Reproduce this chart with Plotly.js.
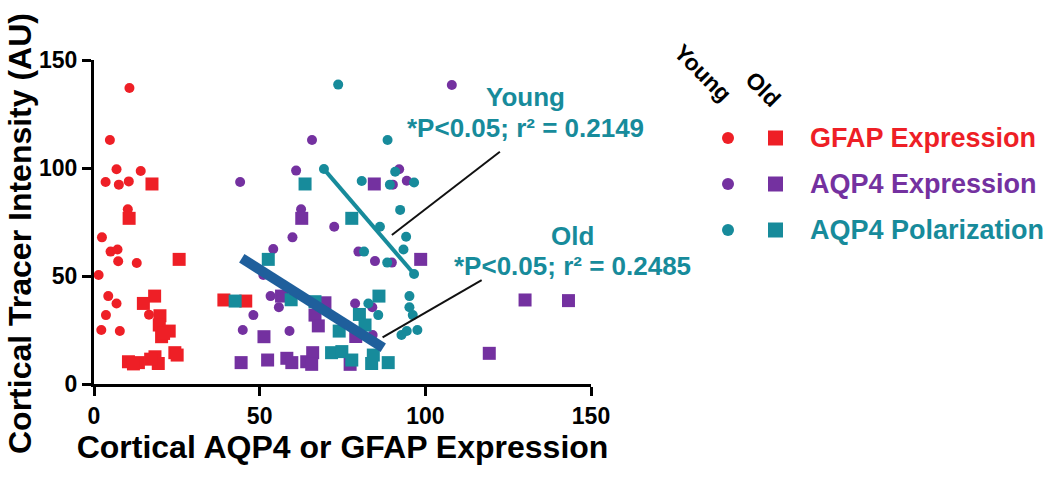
<!DOCTYPE html>
<html>
<head>
<meta charset="utf-8">
<script src="https://cdn.plot.ly/plotly-3.0.1.min.js"></script>
<style>html,body{margin:0;padding:0;background:#fff;}#chart{width:1050px;height:477px;}</style>
</head>
<body>
<div id="chart"></div>
<script>
// ---- data ----
const youngGfapX = [10.7, 4.8, 6.8, 14.1, 3.5, 7.5, 10.5, 10.2, 2.4, 5.0, 7.1, 7.3, 12.9, 1.4, 4.3, 6.8, 3.6, 2.2, 7.8, 16.6];
const youngGfapY = [137, 113, 99.4, 98.6, 93.5, 92.3, 93.8, 80.9, 67.9, 61.3, 62.3, 56.8, 56, 50.5, 40.7, 37.3, 31.9, 25, 24.5, 32.1];

const oldGfapX = [17.5, 10.6, 25.7, 18.3, 14.9, 19.9, 19.7, 22.7, 20.4, 21.0, 24.4, 25.1, 10.4, 13.4, 11.9, 18.4, 19.4, 17.1, 39.2, 45.8];
const oldGfapY = [92.6, 76.7, 57.7, 40.7, 37.3, 31.6, 27.3, 24.5, 21.9, 23.4, 14.5, 13.4, 10.3, 9.9, 9.3, 12.6, 9.5, 11.5, 38.9, 38.4];

const youngAqpExpX = [108, 65.8, 44.1, 61.0, 92.1, 90.2, 94.4, 62.5, 72.5, 59.9, 54.1, 79.8, 84.8, 89.9, 51.1, 53.3, 55.8, 48.1, 44.9, 59.0, 78.8, 84.0, 84.1];
const youngAqpExpY = [138.4, 113, 93.5, 98.8, 99.4, 92.3, 94.1, 80.9, 72.8, 67.9, 62.5, 61.3, 56.9, 56.2, 50.5, 40.7, 35.5, 31.9, 25, 24.5, 37.3, 35.5, 22.7];

const oldAqpExpX = [84.6, 62.7, 98.6, 56.6, 69.7, 66.7, 67.7, 51.3, 44.4, 52.4, 58.2, 59.7, 64.2, 66.0, 65.7, 77.3, 79.0, 130.1, 143.2, 119.3];
const oldAqpExpY = [92.6, 76.7, 57.7, 40.7, 37.6, 31.9, 26.9, 21.9, 9.9, 11.1, 11.9, 9.9, 10.3, 14.5, 9.1, 9.1, 22.0, 38.9, 38.6, 14.2];

const youngAqpPolX = [73.7, 88.6, 69.4, 80.8, 90.9, 96.6, 89.3, 92.4, 86.3, 94.2, 81.5, 93.4, 88.5, 96.6, 82.8, 85.8, 95.2, 95.2, 96.2, 97.6, 92.8, 94.4];
const youngAqpPolY = [138.6, 113, 99.5, 94, 98.3, 93.3, 92.3, 80.6, 72.8, 68.2, 61.3, 62.3, 56.2, 50.9, 37.3, 31.9, 40.7, 35.5, 31.9, 25, 22.7, 24.5];

const oldAqpPolX = [63.7, 77.8, 52.6, 42.6, 59.5, 66.7, 86.0, 80.1, 81.8, 74.0, 71.7, 74.8, 77.8, 84.3, 83.8, 88.8];
const oldAqpPolY = [92.6, 76.7, 57.7, 38.4, 39.0, 38.1, 40.7, 32.2, 27.3, 24.5, 14.5, 15.0, 11.1, 13.4, 9.5, 9.9];

// regression line end points
const youngFitX = [69.4, 96.6];
const youngFitY = [99.5, 50.9];
const oldFitX = [44.6, 87.3];
const oldFitY = [58.2, 16.8];

const legendLabels = ['GFAP Expression', 'AQP4 Expression', 'AQP4 Polarization'];
const xTicks = [0, 50, 100, 150];
const yTicks = [0, 50, 100, 150];
const xTitle = 'Cortical AQP4 or GFAP Expression';
const yTitle = 'Cortical Tracer Intensity (AU)';

// ---- styles ----
const RED = '#ee1f26', PURPLE = '#7431a0', TEAL = '#178b9b', BLUE = '#1f5f9c';
const legendColors = [RED, PURPLE, TEAL];
const FONT = 'Liberation Sans, Arial, Helvetica, sans-serif';

function pts(x, y, color, symbol, size, name) {
  return {x: x, y: y, type: 'scatter', mode: 'markers', name: name, showlegend: false,
    cliponaxis: false,
    marker: {color: color, symbol: symbol, size: size, line: {width: 0}}};
}

const traces = [
  pts(youngGfapX, youngGfapY, RED, 'circle', 10, 'Young GFAP'),
  pts(oldGfapX, oldGfapY, RED, 'square', 13, 'Old GFAP'),
  pts(youngAqpExpX, youngAqpExpY, PURPLE, 'circle', 10, 'Young AQP4 Expression'),
  pts(oldAqpExpX, oldAqpExpY, PURPLE, 'square', 13, 'Old AQP4 Expression'),
  pts(youngAqpPolX, youngAqpPolY, TEAL, 'circle', 10, 'Young AQP4 Polarization'),
  pts(oldAqpPolX, oldAqpPolY, TEAL, 'square', 13, 'Old AQP4 Polarization'),
  {x: youngFitX, y: youngFitY, type: 'scatter', mode: 'lines', showlegend: false,
    line: {color: TEAL, width: 4}},
  {x: oldFitX, y: oldFitY, type: 'scatter', mode: 'lines', showlegend: false,
    line: {color: BLUE, width: 10}}
];

// plot area in pixels: x 94..591, y 60..384
const L = 94, R = 591, T = 60, B = 384;
const px2paperX = p => (p - L) / (R - L);
const px2paperY = p => (B - p) / (B - T);

function ann(o) {
  return Object.assign({showarrow: false, xanchor: 'center', yanchor: 'middle'}, o);
}

const annotations = [
  ann({text: yTitle, x: px2paperX(20), y: px2paperY(234), xref: 'paper', yref: 'paper',
    textangle: -90, font: {family: FONT, size: 32, color: '#000', weight: 700}}),
  ann({text: 'Young', x: 130.1, y: 133, xref: 'x', yref: 'y',
    font: {family: FONT, size: 26, color: TEAL, weight: 700}}),
  ann({text: '*P<0.05; r² = 0.2149', x: 130.1, y: 118.5, xref: 'x', yref: 'y',
    font: {family: FONT, size: 26, color: TEAL, weight: 700}}),
  ann({text: 'Old', x: 144.3, y: 68.5, xref: 'x', yref: 'y',
    font: {family: FONT, size: 26, color: TEAL, weight: 700}}),
  ann({text: '*P<0.05; r² = 0.2485', x: 144.3, y: 54.6, xref: 'x', yref: 'y',
    font: {family: FONT, size: 26, color: TEAL, weight: 700}}),
  ann({text: 'Young', x: px2paperX(703), y: px2paperY(73), xref: 'paper', yref: 'paper',
    textangle: 45, font: {family: FONT, size: 23, color: '#000', weight: 700}}),
  ann({text: 'Old', x: px2paperX(763), y: px2paperY(89), xref: 'paper', yref: 'paper',
    textangle: 45, font: {family: FONT, size: 23, color: '#000', weight: 700}})
];

const rowY = [138, 184, 230];
const shapes = [
  {type: 'line', xref: 'x', yref: 'y', x0: 122.5, y0: 107.5, x1: 89.9, y1: 69, line: {color: '#111', width: 2}},
  {type: 'line', xref: 'x', yref: 'y', x0: 117, y0: 48.1, x1: 87.1, y1: 21.6, line: {color: '#111', width: 2}}
];
legendLabels.forEach((lab, i) => {
  const cy = rowY[i];
  annotations.push(ann({text: lab, x: px2paperX(808), y: px2paperY(cy), xref: 'paper', yref: 'paper',
    xanchor: 'left', font: {family: FONT, size: 27, color: legendColors[i], weight: 700}}));
  shapes.push({type: 'circle', xref: 'paper', yref: 'paper',
    x0: px2paperX(722), x1: px2paperX(734), y0: px2paperY(cy + 6), y1: px2paperY(cy - 6),
    fillcolor: legendColors[i], line: {width: 0}});
  shapes.push({type: 'rect', xref: 'paper', yref: 'paper',
    x0: px2paperX(768), x1: px2paperX(783), y0: px2paperY(cy + 7.5), y1: px2paperY(cy - 7.5),
    fillcolor: legendColors[i], line: {width: 0}});
});

const axisCommon = {
  showgrid: false, zeroline: false, showline: true, linecolor: '#000', linewidth: 3,
  ticks: 'outside', ticklen: 9, tickwidth: 3, tickcolor: '#000',
  tickfont: {family: FONT, size: 23, color: '#000', weight: 700},
  fixedrange: true
};

const layout = {
  width: 1050, height: 477,
  margin: {l: L, r: 1050 - R, t: T, b: 477 - B, pad: 0},
  paper_bgcolor: '#fff', plot_bgcolor: '#fff',
  font: {family: FONT, color: '#000'},
  showlegend: false,
  xaxis: Object.assign({}, axisCommon, {
    range: [0, 150], tickvals: xTicks, ticktext: xTicks.map(String),
    title: {text: xTitle, standoff: 7,
      font: {family: FONT, size: 32, color: '#000', weight: 700}}
  }),
  yaxis: Object.assign({}, axisCommon, {
    range: [0, 150], tickvals: yTicks, ticktext: yTicks.map(String)
  }),
  annotations: annotations,
  shapes: shapes
};

Plotly.newPlot('chart', traces, layout, {displayModeBar: false, staticPlot: true});
</script>
</body>
</html>
